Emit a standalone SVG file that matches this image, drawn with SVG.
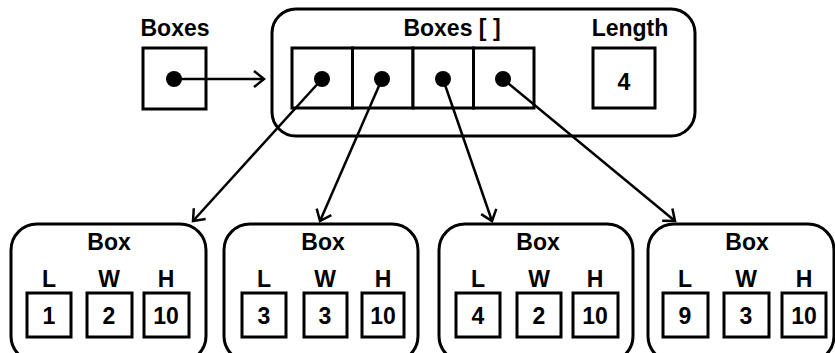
<svg xmlns="http://www.w3.org/2000/svg" width="835" height="353" viewBox="0 0 835 353">
<defs>
<style>
.b{fill:#fff;stroke:#000;stroke-width:3}
.c{fill:none;stroke:#000;stroke-width:2.5}
.t{font-family:"Liberation Sans",Arial,sans-serif;font-weight:bold;font-size:23px;fill:#000;text-anchor:middle}
.d{fill:#000}
</style>
<marker id="ah" markerUnits="userSpaceOnUse" markerWidth="20" markerHeight="20" refX="12" refY="10" orient="auto">
<path d="M2,2 L12,10 L2,18" fill="none" stroke="#000" stroke-width="2.5"/>
</marker>
</defs>
<rect width="835" height="353" fill="#fff"/>
<g id="boxes-var">
<text class="t" x="175" y="36">Boxes</text>
<rect class="b" x="143" y="48" width="63" height="61"/>
<circle class="d" cx="174" cy="79" r="8"/>
</g>
<g id="array-object">
<rect class="b" x="272" y="9" width="423" height="127" rx="24"/>
<text class="t" x="452" y="36">Boxes [ ]</text>
<text class="t" x="630" y="36">Length</text>
<rect class="b" x="292" y="48" width="60.5" height="60"/>
<rect class="b" x="352.5" y="48" width="60.5" height="60"/>
<rect class="b" x="413" y="48" width="60.5" height="60"/>
<rect class="b" x="473.5" y="48" width="60.5" height="60"/>
<circle class="d" cx="322" cy="79" r="8"/>
<circle class="d" cx="382" cy="79" r="8"/>
<circle class="d" cx="443" cy="79" r="8"/>
<circle class="d" cx="503" cy="79" r="8"/>
<rect class="b" x="593" y="48" width="62" height="60"/>
<text class="t" x="624" y="90">4</text>
</g>
<g id="box1">
<rect class="b" x="11" y="224" width="195" height="138" rx="26"/>
<text class="t" x="109" y="250">Box</text>
<text class="t" x="49" y="287">L</text>
<text class="t" x="109" y="287">W</text>
<text class="t" x="166" y="287">H</text>
<rect class="b" x="27" y="293" width="44" height="44"/>
<rect class="b" x="87" y="293" width="45" height="44"/>
<rect class="b" x="144" y="293" width="45" height="44"/>
<text class="t" x="49" y="324">1</text>
<text class="t" x="109" y="324">2</text>
<text class="t" x="166" y="324">10</text>
</g>
<g id="box2">
<rect class="b" x="224" y="224" width="194" height="138" rx="26"/>
<text class="t" x="323" y="250">Box</text>
<text class="t" x="264" y="287">L</text>
<text class="t" x="325" y="287">W</text>
<text class="t" x="383" y="287">H</text>
<rect class="b" x="242" y="293" width="44" height="44"/>
<rect class="b" x="304" y="293" width="43" height="44"/>
<rect class="b" x="362" y="293" width="42" height="44"/>
<text class="t" x="264" y="324">3</text>
<text class="t" x="325" y="324">3</text>
<text class="t" x="383" y="324">10</text>
</g>
<g id="box3">
<rect class="b" x="439" y="224" width="194" height="138" rx="26"/>
<text class="t" x="538" y="250">Box</text>
<text class="t" x="478" y="287">L</text>
<text class="t" x="539" y="287">W</text>
<text class="t" x="595" y="287">H</text>
<rect class="b" x="456" y="293" width="44" height="44"/>
<rect class="b" x="517" y="293" width="44" height="44"/>
<rect class="b" x="573" y="293" width="45" height="44"/>
<text class="t" x="478" y="324">4</text>
<text class="t" x="539" y="324">2</text>
<text class="t" x="595" y="324">10</text>
</g>
<g id="box4">
<rect class="b" x="648" y="224" width="186" height="138" rx="26"/>
<text class="t" x="747" y="250">Box</text>
<text class="t" x="685" y="287">L</text>
<text class="t" x="746" y="287">W</text>
<text class="t" x="804" y="287">H</text>
<rect class="b" x="663" y="293" width="45" height="44"/>
<rect class="b" x="724" y="293" width="45" height="44"/>
<rect class="b" x="782" y="293" width="44" height="44"/>
<text class="t" x="685" y="324">9</text>
<text class="t" x="746" y="324">3</text>
<text class="t" x="804" y="324">10</text>
</g>
<g id="connectors">
<line class="c" x1="174" y1="79" x2="264" y2="79" marker-end="url(#ah)"/>
<line class="c" x1="322" y1="79" x2="193" y2="221" marker-end="url(#ah)"/>
<line class="c" x1="382" y1="79" x2="320" y2="221" marker-end="url(#ah)"/>
<line class="c" x1="443" y1="79" x2="492" y2="221" marker-end="url(#ah)"/>
<line class="c" x1="503" y1="79" x2="675" y2="221" marker-end="url(#ah)"/>
</g>
</svg>
